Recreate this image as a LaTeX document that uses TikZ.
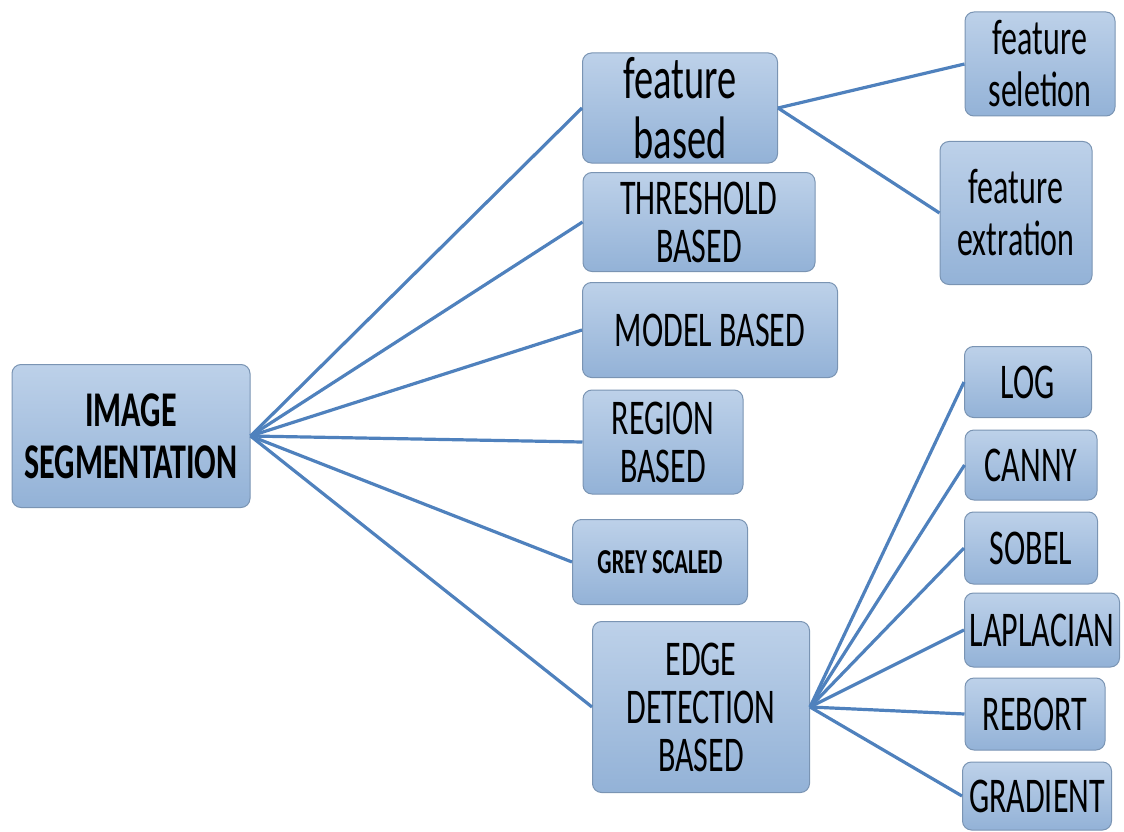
\documentclass[tikz,border=0pt]{standalone}
\usepackage{fontspec}
\setmainfont{Carlito}[FakeStretch=0.64]
\definecolor{linkblue}{HTML}{4F81BD}
\definecolor{boxtop}{HTML}{BDD1E9}
\definecolor{boxbot}{HTML}{93B2D7}
\definecolor{boxline}{HTML}{7A94B3}
\tikzset{
  box/.style={draw=boxline, line width=1pt, rounded corners=9pt, top color=boxtop, bottom color=boxbot,
    align=center, inner sep=0pt, font=\fontsize{50}{48}\selectfont},
  lower/.style={font=\fontsize{50}{52}\selectfont},
  link/.style={linkblue, line width=3.2pt},
}

\begin{document}
\begin{tikzpicture}[x=1pt, y=-1pt]
\useasboundingbox (0,0) rectangle (1124,832);
\node[box, minimum width=238, minimum height=143, font=\fontsize{50}{52}\selectfont\bfseries] (img) at (131,436) {IMAGE\\SEGMENTATION};
\node[box, minimum width=195, minimum height=110, font=\fontsize{60}{60}\selectfont] (fb) at (680,108) {feature\\based};
\node[box, minimum width=232, minimum height=99] (thr) at (699,222) {THRESHOLD\\BASED};
\node[box, minimum width=255, minimum height=95] (mod) at (710,330) {MODEL BASED};
\node[box, minimum width=160, minimum height=104] (reg) at (663,442) {REGION\\BASED};
\node[box, minimum width=175, minimum height=85, font=\fontsize{35}{36}\selectfont\bfseries] (grey) at (660,562) {GREY SCALED};
\node[box, minimum width=217, minimum height=171] (edge) at (701,707) {EDGE\\DETECTION\\BASED};
\node[box, lower, minimum width=150, minimum height=104] (fsel) at (1040,64) {feature\\seletion};
\node[box, lower, minimum width=152, minimum height=143] (fext) at (1016,213) {feature\\extration};
\node[box, minimum width=127, minimum height=71] (log) at (1028,382) {LOG};
\node[box, minimum width=132, minimum height=70] (canny) at (1031,465) {CANNY};
\node[box, minimum width=133, minimum height=72] (sobel) at (1031,548) {SOBEL};
\node[box, minimum width=155, minimum height=74] (lap) at (1042,630) {LAPLACIAN};
\node[box, minimum width=140, minimum height=72] (reb) at (1035,714) {REBORT};
\node[box, minimum width=149, minimum height=68] (grad) at (1037,796) {GRADIENT};
\foreach \n in {fb,thr,mod,reg,grey,edge}
  \draw[link] (img.east) -- (\n.west);
\foreach \n in {fsel,fext}
  \draw[link] (fb.east) -- (\n.west);
\foreach \n in {log,canny,sobel,lap,reb,grad}
  \draw[link] (edge.east) -- (\n.west);
\end{tikzpicture}
\end{document}
